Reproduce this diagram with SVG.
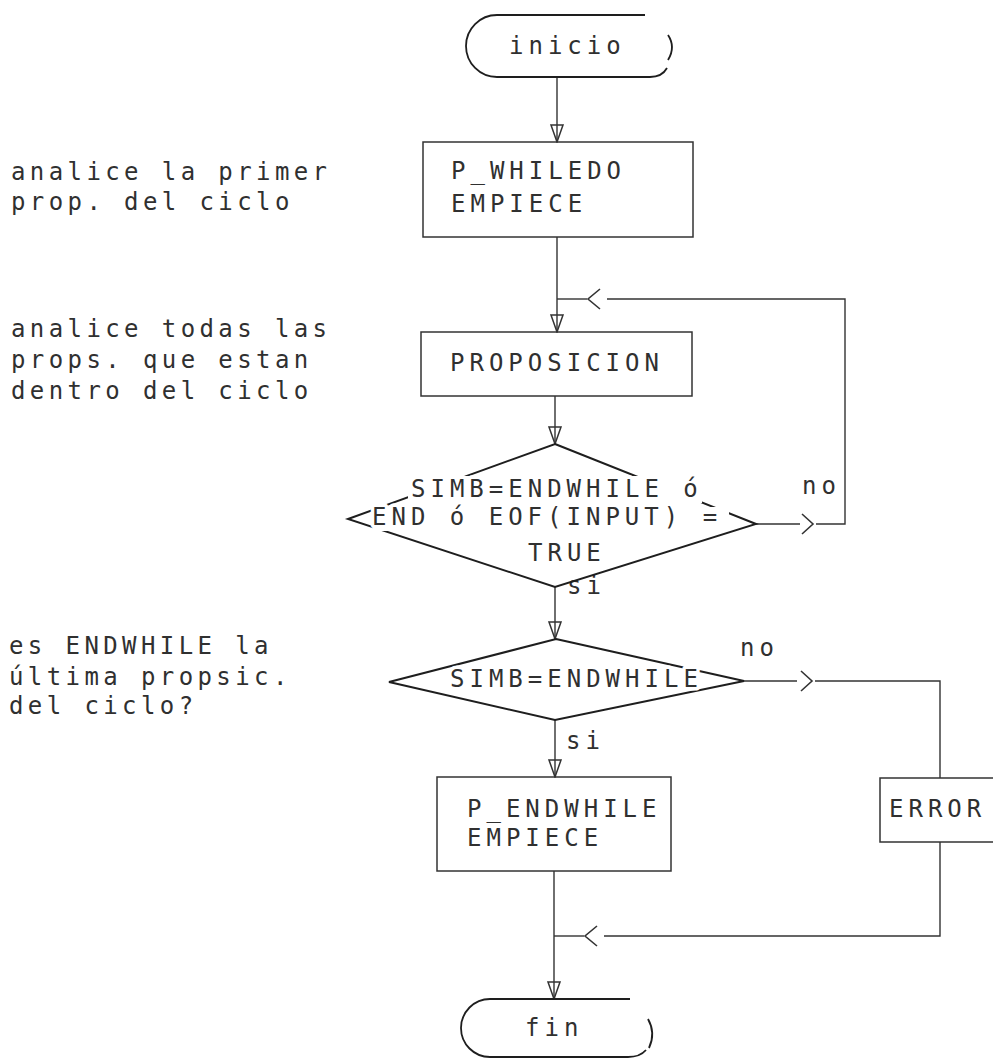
<svg xmlns="http://www.w3.org/2000/svg" width="993" height="1058" viewBox="0 0 993 1058">
  <defs>
    <style>
      .t { font-family: "DejaVu Sans Mono", "Liberation Mono", monospace; font-size: 24px; letter-spacing: 5px; fill: #303030; }
      .note { letter-spacing: 4.4px; }
      .knock { paint-order: stroke; stroke: #ffffff; stroke-width: 7px; stroke-linejoin: round; }
      .gap { fill: #ffffff; stroke: none; }
      .box { fill: none; stroke: #333; stroke-width: 1.5; }
      .dia { fill: none; stroke: #1e1e1e; stroke-width: 2; stroke-linejoin: miter; }
      .term { fill: none; stroke: #1e1e1e; stroke-width: 1.8; }
      .ln { fill: none; stroke: #333; stroke-width: 1.4; }
      .chev { fill: none; stroke: #333; stroke-width: 1.6; }
    </style>
    <!-- open downward arrowhead, tip at origin -->
    <marker id="down" markerUnits="userSpaceOnUse" markerWidth="16" markerHeight="20" viewBox="-8 -19 16 20" refX="0" refY="0" orient="0">
      <path d="M-6,-17 L0,0 L6,-17 Z" fill="none" stroke="#333" stroke-width="1.5"/>
    </marker>
  </defs>
  <rect width="993" height="1058" fill="#ffffff"/>

  <!-- side notes -->
  <g id="notes">
    <text class="t note" x="11" y="180">analice la primer</text>
    <text class="t note" x="11" y="210">prop. del ciclo</text>
    <text class="t note" x="11" y="337">analice todas las</text>
    <text class="t note" x="11" y="368">props. que estan</text>
    <text class="t note" x="11" y="399">dentro del ciclo</text>
    <text class="t note" x="9" y="654">es ENDWHILE la</text>
    <text class="t note" x="9" y="685">última propsic.</text>
    <text class="t note" x="9" y="714">del ciclo?</text>
  </g>

  <!-- connectors -->
  <g id="connectors">
    <line class="ln" x1="557" y1="77" x2="557" y2="142" marker-end="url(#down)"/>
    <line class="ln" x1="557" y1="237" x2="557" y2="332" marker-end="url(#down)"/>
    <line class="ln" x1="555" y1="396" x2="555" y2="444" marker-end="url(#down)"/>
    <line class="ln" x1="555" y1="587" x2="555" y2="639" marker-end="url(#down)"/>
    <line class="ln" x1="555" y1="720" x2="555" y2="777" marker-end="url(#down)"/>
    <line class="ln" x1="554" y1="871" x2="554" y2="999" marker-end="url(#down)"/>

    <!-- loop back from the first decision -->
    <polyline class="ln" points="756,524 800,524"/>
    <polyline class="chev" points="802,514 813,524 802,534"/>
    <polyline class="ln" points="816,524 845,524 845,299 607,299"/>
    <polyline class="chev" points="600,289 588,299 600,309"/>
    <line class="ln" x1="587" y1="299" x2="557" y2="299"/>

    <!-- branch to ERROR -->
    <polyline class="ln" points="744,681 797,681"/>
    <polyline class="chev" points="801,671 812,681 801,691"/>
    <polyline class="ln" points="815,681 940,681 940,778"/>

    <!-- ERROR back to the exit -->
    <polyline class="ln" points="940,842 940,936 604,936"/>
    <polyline class="chev" points="597,926 585,936 597,946"/>
    <line class="ln" x1="584" y1="936" x2="554" y2="936"/>

    <!-- branch labels -->
    <text class="t" x="802" y="494">no</text>
    <text class="t" x="567" y="594">si</text>
    <text class="t" x="740" y="656">no</text>
    <text class="t" x="566" y="749">si</text>
  </g>

  <g id="inicio">
    <path class="term" d="M645,15 H497 A31,31 0 0 0 497,77 H650 Q662,77 667,68"/>
    <path class="term" d="M668,35 Q676,47 668,60"/>
    <text class="t" x="509" y="54">inicio</text>
  </g>

  <g id="p_whiledo">
    <rect class="box" x="423" y="142" width="270" height="95"/>
    <text class="t" x="451" y="179">P_WHILEDO</text>
    <text class="t" x="451" y="212">EMPIECE</text>
  </g>

  <g id="proposicion">
    <rect class="box" x="421" y="332" width="271" height="64"/>
    <text class="t" x="450" y="371">PROPOSICION</text>
  </g>

  <g id="cond_fin_ciclo">
    <polygon class="dia" points="555,444 756,524 555,587 348,519"/>
    <!-- the label rows break the diamond outline -->
    <rect class="gap" x="408" y="476" width="294" height="27"/>
    <rect class="gap" x="373" y="507" width="356" height="24"/>
    <text class="t knock" x="411" y="497">SIMB=ENDWHILE ó</text>
    <text class="t knock" x="372" y="525">END ó EOF(INPUT) =</text>
    <text class="t knock" x="528" y="561">TRUE</text>
  </g>

  <g id="cond_endwhile">
    <polygon class="dia" points="556,639 744,681 555,720 389,682"/>
    <text class="t knock" x="450" y="687">SIMB=ENDWHILE</text>
  </g>

  <g id="p_endwhile">
    <rect class="box" x="437" y="777" width="234" height="94"/>
    <text class="t" x="467" y="817">P_ENDWHILE</text>
    <text class="t" x="467" y="846">EMPIECE</text>
  </g>

  <g id="error">
    <path class="box" d="M1000,778 H880 V842 H1000"/>
    <text class="t" x="889" y="817">ERROR</text>
  </g>

  <g id="fin">
    <path class="term" d="M630,999 H490 A29,29 0 0 0 490,1057 H628 Q640,1057 646,1050"/>
    <path class="term" d="M648,1019 Q656,1033 649,1048"/>
    <text class="t" x="525" y="1036">fin</text>
  </g>
</svg>
